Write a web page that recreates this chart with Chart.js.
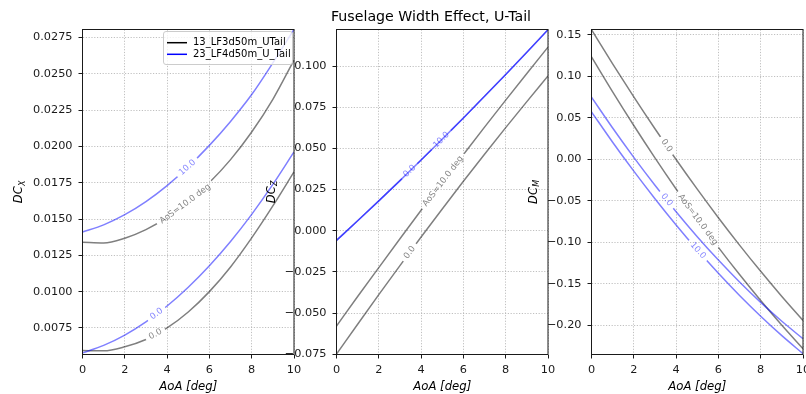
<!DOCTYPE html>
<html><head><meta charset="utf-8">
<script src="https://cdn.jsdelivr.net/npm/chart.js@4/dist/chart.umd.min.js"></script>
<style>
html,body{margin:0;padding:0;background:#fff;}
#wrap{position:relative;width:806px;height:394px;overflow:hidden;background:#fff;}
canvas{position:absolute;left:0;top:0;}
</style></head><body>
<div id="wrap">
<canvas id="c1" width="806" height="394"></canvas>
<canvas id="c2" width="806" height="394"></canvas>
<canvas id="c3" width="806" height="394"></canvas>
</div>
<script>
// ---------- data ----------
const aoa = [0,1,2,3,4,5,6,7,8,9,10];
const aoaTicks = [0,2,4,6,8,10];
const configNames = ['13_LF3d50m_UTail','23_LF4d50m_U_Tail'];
const chartTitle = 'Fuselage Width Effect, U-Tail';

// DC_X
const dcx_13_aos0  = [0.00594,0.00592,0.00620,0.00670,0.00750,0.00860,0.01000,0.01170,0.01370,0.01590,0.01825];
const dcx_13_aos10 = [0.01340,0.01335,0.01368,0.01427,0.01511,0.01619,0.01751,0.01909,0.02099,0.02324,0.02594];
const dcx_23_aos0  = [0.00578,0.00630,0.00701,0.00792,0.00901,0.01030,0.01178,0.01345,0.01532,0.01738,0.01962];
const dcx_23_aos10 = [0.01410,0.01460,0.01530,0.01620,0.01730,0.01860,0.02007,0.02172,0.02357,0.02575,0.02805];
const dcxTicks = [0.0075,0.0100,0.0125,0.0150,0.0175,0.0200,0.0225,0.0250,0.0275];

// DC_Z
const dcz_13_aos0  = [-0.0750,-0.0568,-0.0388,-0.0212,-0.0038,0.0132,0.0300,0.0464,0.0626,0.0784,0.0940];
const dcz_13_aos10 = [-0.0579,-0.0400,-0.0224,-0.0049,0.0124,0.0294,0.0462,0.0629,0.0793,0.0955,0.1115];
const dcz_23_aos0  = [-0.0059,0.0060,0.0181,0.0304,0.0429,0.0556,0.0685,0.0816,0.0949,0.1084,0.1221];
const dcz_23_aos10 = [-0.0059,0.0060,0.0181,0.0304,0.0429,0.0556,0.0685,0.0816,0.0949,0.1084,0.1221];
const dczTicks = [-0.075,-0.050,-0.025,0,0.025,0.050,0.075,0.100];

// DC_M
const dcm_13_aos0  = [0.1561,0.1150,0.0752,0.0368,-0.0003,-0.0360,-0.0704,-0.1034,-0.1350,-0.1653,-0.1942];
const dcm_13_aos10 = [0.1233,0.0812,0.0407,0.0017,-0.0358,-0.0717,-0.1061,-0.1389,-0.1702,-0.2000,-0.2282];
const dcm_23_aos0  = [0.0749,0.0377,0.0023,-0.0313,-0.0631,-0.0932,-0.1214,-0.1478,-0.1724,-0.1952,-0.2162];
const dcm_23_aos10 = [0.0572,0.0206,-0.0143,-0.0475,-0.0791,-0.1091,-0.1374,-0.1641,-0.1891,-0.2125,-0.2342];
const dcmTicks = [-0.20,-0.15,-0.10,-0.05,0,0.05,0.10,0.15];

// ---------- styling ----------
const FONT = "'DejaVu Sans', sans-serif";
const GRAY = 'rgba(0,0,0,0.5)';
const BLUE = 'rgba(0,0,255,0.5)';
const TICKFS = 11.3;
const CLFS = 8.5;

function fmt(v, d){ const s = Math.abs(v).toFixed(d); return (v < -1e-12 ? '\u2212' : '') + s; }

const extras = {
  id: 'extras',
  beforeDatasetsDraw(chart){
    const o = chart.options.plugins.extras;
    const ctx = chart.ctx;
    ctx.save();
    ctx.font = CLFS + 'px ' + FONT;
    chart.$labs = o.labels.map(l => {
      const pts = chart.getDatasetMeta(l.ds).data;
      const px = chart.scales.x.getPixelForValue(l.x);
      let i = 0; while (i < pts.length - 2 && pts[i+1].x < px) i++;
      const a = pts[i], b = pts[i+1];
      const t = (px - a.x) / (b.x - a.x);
      const py = a.y + t * (b.y - a.y);
      const ang = Math.atan2(b.y - a.y, b.x - a.x);
      const w = ctx.measureText(l.text).width;
      return {ds: l.ds, x: px, y: py, ang, w, text: l.text, color: chart.data.datasets[l.ds].borderColor};
    });
    ctx.restore();
  },
  beforeDatasetDraw(chart, args){
    const labs = (chart.$labs || []).filter(l => l.ds === args.index);
    if (!labs.length) return;
    const ctx = chart.ctx;
    ctx.save();
    ctx.beginPath();
    ctx.rect(0, 0, chart.width, chart.height);
    labs.forEach(l => {
      const hw = l.w / 2 + 4, hh = 6;
      const c = Math.cos(l.ang), s = Math.sin(l.ang);
      const q = [[-hw,-hh],[hw,-hh],[hw,hh],[-hw,hh]].map(([u,v]) => [l.x + u*c - v*s, l.y + u*s + v*c]);
      ctx.moveTo(q[0][0], q[0][1]);
      for (let k = 1; k < 4; k++) ctx.lineTo(q[k][0], q[k][1]);
      ctx.closePath();
    });
    ctx.clip('evenodd');
  },
  afterDatasetDraw(chart, args){
    if ((chart.$labs || []).some(l => l.ds === args.index)) chart.ctx.restore();
  },
  afterDatasetsDraw(chart){
    const o = chart.options.plugins.extras;
    const ctx = chart.ctx;
    const A = chart.chartArea;
    // contour labels
    chart.$labs.forEach(l => {
      ctx.save();
      ctx.translate(l.x, l.y);
      ctx.rotate(l.ang);
      ctx.font = CLFS + 'px ' + FONT;
      ctx.fillStyle = l.color;
      ctx.textAlign = 'center';
      ctx.textBaseline = 'middle';
      ctx.fillText(l.text, 0, 0);
      ctx.restore();
    });
    // frame
    ctx.save();
    ctx.strokeStyle = '#1a1a1a';
    ctx.lineWidth = 1;
    ctx.strokeRect(A.left, A.top, A.right - A.left, A.bottom - A.top);
    ctx.restore();
    // y title with subscript
    ctx.save();
    ctx.translate(o.yTitle.x, (A.top + A.bottom) / 2);
    ctx.rotate(-Math.PI / 2);
    ctx.fillStyle = '#000';
    ctx.textBaseline = 'alphabetic';
    ctx.font = 'italic 11.5px ' + FONT;
    const w1 = ctx.measureText(o.yTitle.main).width;
    ctx.font = 'italic 8px ' + FONT;
    const w2 = ctx.measureText(o.yTitle.sub).width;
    ctx.font = 'italic 11.5px ' + FONT;
    ctx.fillText(o.yTitle.main, -(w1 + w2) / 2, 4);
    ctx.font = 'italic 8px ' + FONT;
    ctx.fillText(o.yTitle.sub, -(w1 + w2) / 2 + w1 + 0.3, 6.5);
    ctx.restore();
    // x title
    ctx.save();
    ctx.font = 'italic 11.7px ' + FONT;
    ctx.fillStyle = '#000';
    ctx.textAlign = 'center';
    ctx.textBaseline = 'alphabetic';
    ctx.fillText('AoA [deg]', (A.left + A.right) / 2, 390.3);
    ctx.restore();
    // suptitle
    if (o.title) {
      ctx.save();
      ctx.font = '14.2px ' + FONT;
      ctx.fillStyle = '#000';
      ctx.textAlign = 'center';
      ctx.textBaseline = 'middle';
      ctx.fillText(o.title, 431, 17);
      ctx.restore();
    }
    // legend
    if (o.legend) {
      ctx.save();
      const x = 163.5, y = 31.5, w = 129, h = 33, r = 2.5;
      ctx.beginPath();
      ctx.moveTo(x + r, y); ctx.lineTo(x + w - r, y); ctx.arcTo(x + w, y, x + w, y + r, r);
      ctx.lineTo(x + w, y + h - r); ctx.arcTo(x + w, y + h, x + w - r, y + h, r);
      ctx.lineTo(x + r, y + h); ctx.arcTo(x, y + h, x, y + h - r, r);
      ctx.lineTo(x, y + r); ctx.arcTo(x, y, x + r, y, r); ctx.closePath();
      ctx.fillStyle = 'rgba(255,255,255,0.8)';
      ctx.fill();
      ctx.strokeStyle = '#cccccc';
      ctx.lineWidth = 1;
      ctx.stroke();
      const cols = ['#000000', '#0000ff'];
      const ys = [42.7, 54.3];
      ctx.font = '10px ' + FONT;
      ctx.textBaseline = 'middle';
      ctx.textAlign = 'left';
      configNames.forEach((n, i) => {
        ctx.strokeStyle = cols[i];
        ctx.lineWidth = 1.5;
        ctx.beginPath(); ctx.moveTo(167, ys[i]); ctx.lineTo(187, ys[i]); ctx.stroke();
        ctx.fillStyle = '#000';
        ctx.fillText(n, 193, ys[i]);
      });
      ctx.restore();
    }
  }
};

function ds(arr, color, order){
  return {
    data: aoa.map((x, i) => ({x: x, y: arr[i]})),
    borderColor: color, borderWidth: 1.5, pointRadius: 0, fill: false,
    cubicInterpolationMode: 'monotone', order: order
  };
}

function makePanel(id, p){
  const scaleCommon = {
    grid: {color: '#b0b0b0', lineWidth: 0.8, tickColor: '#1a1a1a', tickLength: 4, tickWidth: 1, drawTicks: true},
    border: {display: false, dash: [1.2, 1.6]},
  };
  new Chart(document.getElementById(id), {
    type: 'line',
    data: {datasets: p.series.map(s => ds(s.data, s.color, s.order))},
    options: {
      responsive: false, animation: false, devicePixelRatio: 1,
      layout: {padding: {left: p.left - 60, right: 806 - p.right, top: 29.5, bottom: 394 - 354.5 - 24}},
      plugins: {
        legend: {display: false}, tooltip: {enabled: false}, title: {display: false},
        extras: {labels: p.labels, yTitle: p.yTitle, title: p.title, legend: p.legend}
      },
      scales: {
        x: Object.assign({}, scaleCommon, {
          type: 'linear', min: 0, max: 10,
          afterBuildTicks: s => { s.ticks = aoaTicks.map(v => ({value: v})); },
          afterFit: s => { s.height = 24; s.paddingLeft = 0; s.paddingRight = 0; },
          ticks: {font: {family: FONT, size: TICKFS}, color: '#1a1a1a', padding: 4.3, maxRotation: 0, autoSkip: false,
                  callback: v => String(v)}
        }),
        y: Object.assign({}, scaleCommon, {
          type: 'linear', min: p.yMin, max: p.yMax,
          afterBuildTicks: s => { s.ticks = p.yTicks.map(v => ({value: v})); },
          afterFit: s => { s.width = 60; s.paddingTop = 0; s.paddingBottom = 0; },
          ticks: {font: {family: FONT, size: TICKFS}, color: '#1a1a1a', padding: 6, autoSkip: false,
                  callback: v => fmt(v, p.dec)}
        })
      }
    },
    plugins: [extras]
  });
}

makePanel('c1', {
  left: 82.5, right: 294, yMin: 0.00567, yMax: 0.02805, yTicks: dcxTicks, dec: 4,
  series: [
    {data: dcx_13_aos0, color: GRAY, order: 2},
    {data: dcx_13_aos10, color: GRAY, order: 2},
    {data: dcx_23_aos0, color: BLUE, order: 1},
    {data: dcx_23_aos10, color: BLUE, order: 1}
  ],
  labels: [
    {ds: 0, x: 3.45, text: '0.0'},
    {ds: 1, x: 4.86, text: 'AoS=10.0 deg'},
    {ds: 2, x: 3.5, text: '0.0'},
    {ds: 3, x: 4.96, text: '10.0'}
  ],
  yTitle: {main: 'DC', sub: 'X', x: 18},
  legend: true
});

makePanel('c2', {
  left: 336.5, right: 548, yMin: -0.0752, yMax: 0.1222, yTicks: dczTicks, dec: 3,
  series: [
    {data: dcz_13_aos0, color: GRAY, order: 2},
    {data: dcz_13_aos10, color: GRAY, order: 2},
    {data: dcz_23_aos0, color: BLUE, order: 1},
    {data: dcz_23_aos10, color: BLUE, order: 1}
  ],
  labels: [
    {ds: 0, x: 3.46, text: '0.0'},
    {ds: 1, x: 5.04, text: 'AoS=10.0 deg'},
    {ds: 2, x: 3.46, text: '0.0'},
    {ds: 3, x: 4.96, text: '10.0'}
  ],
  yTitle: {main: 'DC', sub: 'Z', x: 270.5},
  title: chartTitle
});

makePanel('c3', {
  left: 591.5, right: 803, yMin: -0.2352, yMax: 0.1564, yTicks: dcmTicks, dec: 2,
  series: [
    {data: dcm_13_aos0, color: GRAY, order: 2},
    {data: dcm_13_aos10, color: GRAY, order: 2},
    {data: dcm_23_aos0, color: BLUE, order: 1},
    {data: dcm_23_aos10, color: BLUE, order: 1}
  ],
  labels: [
    {ds: 0, x: 3.55, text: '0.0'},
    {ds: 1, x: 5.03, text: 'AoS=10.0 deg'},
    {ds: 2, x: 3.55, text: '0.0'},
    {ds: 3, x: 5.03, text: '10.0'}
  ],
  yTitle: {main: 'DC', sub: 'M', x: 532.5}
});
</script>
</body></html>
